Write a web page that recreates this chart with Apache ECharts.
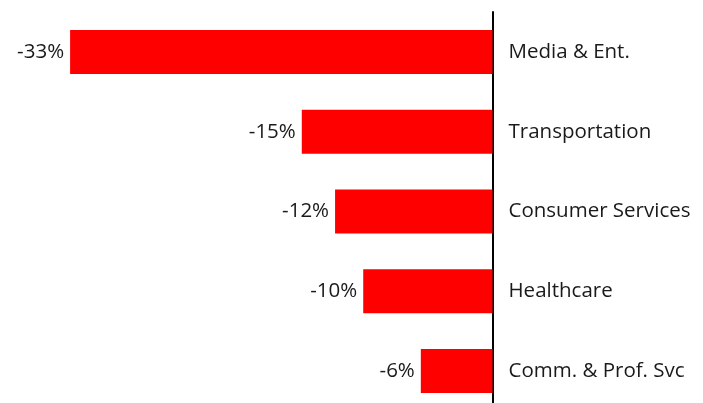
<!DOCTYPE html>
<html>
<head>
<meta charset="utf-8">
<script src="https://cdn.jsdelivr.net/npm/echarts@6/dist/echarts.min.js"></script>
<style>html,body{margin:0;padding:0;background:#fff;overflow:hidden;}#c{width:703px;height:411px;}</style>
</head>
<body>
<div id="c"></div>
<script>
const categories = ["Media & Ent.", "Transportation", "Consumer Services", "Healthcare", "Comm. & Prof. Svc"];
const values = [-33, -14.9, -12.3, -10.1, -5.6];
const labels = ["-33%", "-15%", "-12%", "-10%", "-6%"];

const chart = echarts.init(document.getElementById('c'));
chart.setOption({
  animation: false,
  grid: { left: 44.5, width: 448, top: 12, bottom: 0, containLabel: false },
  xAxis: {
    type: 'value', min: -35, max: 0,
    show: false
  },
  yAxis: {
    type: 'category', data: categories, inverse: true, position: 'right',
    axisLine: { show: true, onZero: false, lineStyle: { color: '#000', width: 2 } },
    axisTick: { show: false },
    axisLabel: { margin: 16, color: '#1a1a1a', fontSize: 20.5, fontFamily: 'Open Sans' },
    splitLine: { show: false }
  },
  series: [{
    type: 'bar',
    data: values,
    barWidth: 44,
    itemStyle: { color: '#ff0000' },
    label: {
      show: true, position: 'left', distance: 6,
      color: '#1a1a1a', fontSize: 20.5, fontFamily: 'Open Sans',
      formatter: p => labels[p.dataIndex]
    }
  }]
});
</script>
</body>
</html>
